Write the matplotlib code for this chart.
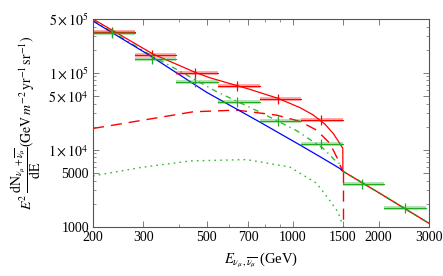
import matplotlib
matplotlib.use("Agg")
import matplotlib.pyplot as plt
import numpy as np
from matplotlib.ticker import FixedLocator, FixedFormatter, LogLocator, NullFormatter

# background (blue)
bg_E = [200, 317, 500, 768, 1061, 1246, 1464, 1500, 2000, 3000]
bg_flux = [4.7e5, 1.67e5, 5.6e4, 2.3e4, 1.16e4, 8.2e3, 5.75e3, 5.3e3, 2.8e3, 1.12e3]

# signal 1 (red dashed) and total (red solid)
sig1_E = [200, 300, 449, 637, 879, 1060, 1213, 1351, 1444, 1499]
sig1_flux = [1.9e4, 2.44e4, 3.13e4, 3.29e4, 2.83e4, 2.35e4, 1.81e4, 1.22e4, 7.4e3, 5.2e3]
tot1_E = [200, 325, 455, 513, 700, 890, 1060, 1180, 1300, 1387, 1450, 1499]
tot1_flux = [5.0e5, 1.75e5, 1.02e5, 8.65e4, 6.2e4, 4.67e4, 3.55e4, 2.85e4, 2.15e4, 1.64e4, 1.28e4, 1.05e4]

# signal 2 (green dotted) and total (green dash-dot)
sig2_E = [200, 292, 437, 690, 978, 1213, 1351, 1444, 1490]
sig2_flux = [4.6e3, 5.9e3, 7.2e3, 7.5e3, 6.0e3, 3.7e3, 2.2e3, 1.55e3, 1.1e3]
tot2_E = [200, 317, 542, 768, 1033, 1280, 1426, 1499]
tot2_flux = [4.8e5, 1.72e5, 5.7e4, 3.1e4, 1.78e4, 1.05e4, 7.0e3, 6.3e3]

# binned data
bin_edges = [200, 279.8, 391.5, 547.7, 766.3, 1072, 1500, 2098, 2936]
bin_centers = [234, 322, 455, 640, 890, 1260, 1750, 2480]
red_bins = [3.36e5, 1.72e5, 1.01e5, 6.74e4, 4.57e4, 2.44e4]
green_bins = [3.29e5, 1.525e5, 7.6e4, 4.14e4, 2.37e4, 1.18e4, 3.67e3, 1.74e3]

x_ticks = [200, 300, 500, 700, 1000, 1500, 2000, 3000]
y_ticks = [1000, 5000, 1e4, 5e4, 1e5, 5e5]
y_labels = ["1000", "5000", r"$1\times10^4$", r"$5\times10^4$", r"$1\times10^5$", r"$5\times10^5$"]

plt.rcParams["font.family"] = "Liberation Serif"
plt.rcParams["mathtext.fontset"] = "stix"

RED = "#ff0000"
GREEN = "#22aa22"
BLUE = "#0000ff"

fig = plt.figure(figsize=(4.43, 2.76), dpi=100)
ax = fig.add_axes([0.21, 0.1775, 0.758, 0.7535])

ax.plot(sig2_E, sig2_flux, color="#33bb33", lw=1.0, ls=(0, (1.2, 3)))
ax.plot(tot2_E, tot2_flux, color="#33bb33", lw=1.0, ls=(0, (4, 3, 1, 3)))
ax.plot(sig1_E, sig1_flux, color=RED, lw=1.0, ls=(0, (8, 5)))
ax.plot([1500, 1500], [sig1_flux[-1], 900], color=RED, lw=1.0, ls=(0, (8, 5)))
ax.plot(bg_E[:8], bg_flux[:8], color=BLUE, lw=0.9)
ax.plot(tot1_E + [1500], tot1_flux + [bg_flux[7]], color=RED, lw=0.9)
ax.plot(bg_E[7:], bg_flux[7:], color=RED, lw=1.0)
ax.plot(bg_E[7:], bg_flux[7:], color="#229922", lw=1.0, ls=(0, (3, 3)))

for i, v in enumerate(red_bins):
    lo, hi = bin_edges[i], bin_edges[i + 1]
    ax.plot([lo, hi], [v, v], color=RED, lw=2.8, alpha=0.35, solid_capstyle="butt")
    ax.plot([lo, hi], [v, v], color=RED, lw=0.8)
    ax.plot([bin_centers[i]], [v], marker="|", ms=6.5, mew=0.9, color=RED)
for i, v in enumerate(green_bins):
    lo, hi = bin_edges[i], bin_edges[i + 1]
    ax.plot([lo, hi], [v, v], color=GREEN, lw=2.8, alpha=0.35, solid_capstyle="butt")
    ax.plot([lo, hi], [v, v], color=GREEN, lw=0.8)
    ax.plot([bin_centers[i]], [v], marker="|", ms=6.5, mew=0.9, color=GREEN)

ax.set_xscale("log")
ax.set_yscale("log")
ax.set_xlim(200, 3000)
ax.set_ylim(1000, 5e5)

ax.xaxis.set_major_locator(FixedLocator(x_ticks))
ax.xaxis.set_major_formatter(FixedFormatter([str(t) for t in x_ticks]))
ax.xaxis.set_minor_locator(LogLocator(base=10, subs=np.arange(2, 10) * 1.0, numticks=20))
ax.xaxis.set_minor_formatter(NullFormatter())
ax.yaxis.set_major_locator(FixedLocator(y_ticks))
ax.yaxis.set_major_formatter(FixedFormatter(y_labels))
ax.yaxis.set_minor_locator(LogLocator(base=10, subs=np.arange(2, 10) * 1.0, numticks=20))
ax.yaxis.set_minor_formatter(NullFormatter())

ax.tick_params(which="both", direction="in", top=True, right=True, labelsize=10, color="#666666", pad=3)
ax.tick_params(which="major", length=4, width=0.6)
ax.tick_params(which="minor", length=2, width=0.5)
for s in ax.spines.values():
    s.set_color("#555555")
    s.set_linewidth(0.8)

ax.set_xlabel(r"$E_{\nu_\mu,\overline{\nu_\mu}}$ (GeV)", fontsize=10.5, labelpad=5)
ax.set_ylabel(r"$E^2\,\dfrac{\mathrm{dN}_{\nu_\mu+\overline{\nu_\mu}}}{\mathrm{dE}}(\mathrm{GeV}\,m^{-2}\,\mathrm{yr}^{-1}\,\mathrm{sr}^{-1})$",
              fontsize=10, labelpad=4)

fig.savefig("out.png", dpi=100)
